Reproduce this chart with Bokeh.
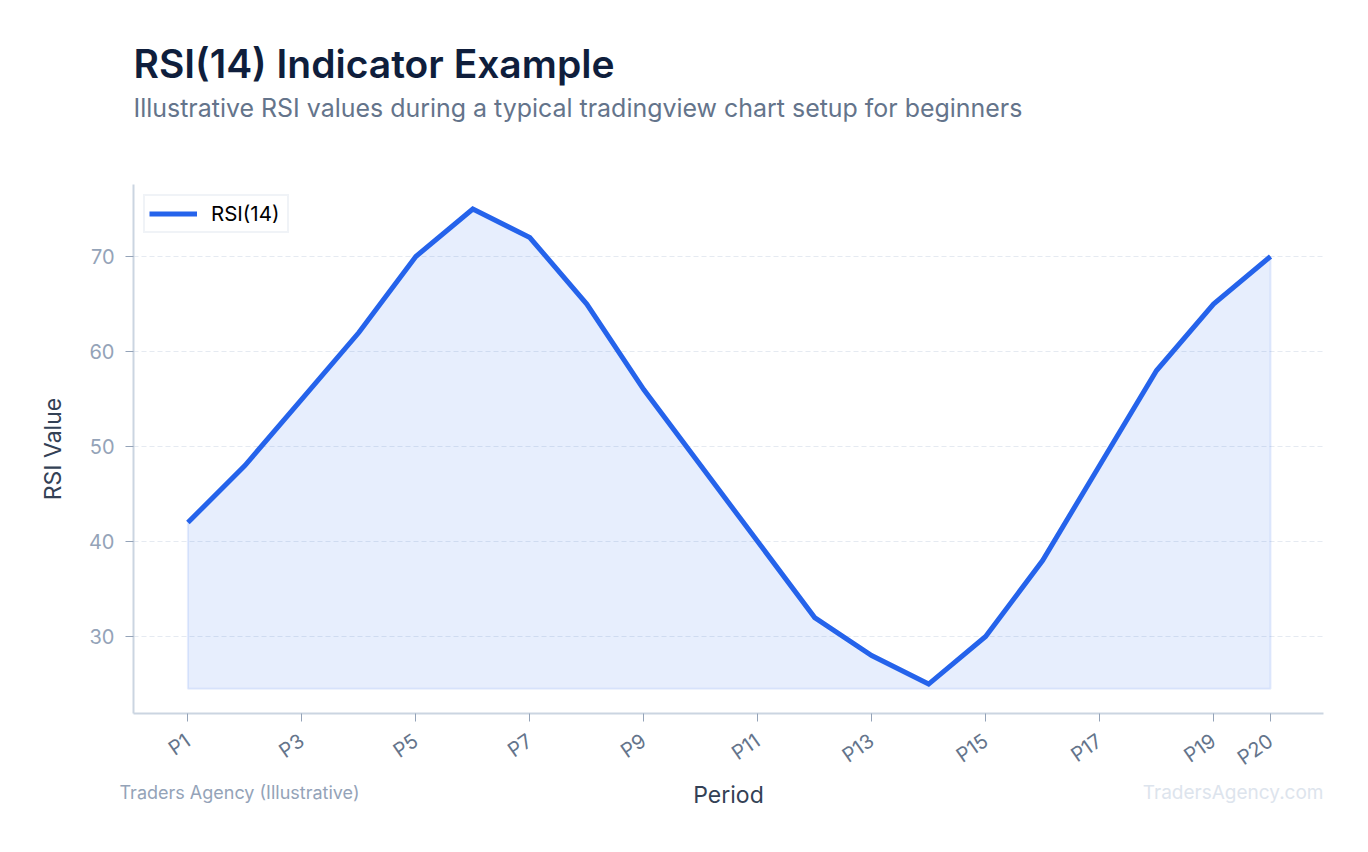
from bokeh.embed import file_html
from bokeh.models import FixedTicker, Label, Legend, LegendItem, Range1d
from bokeh.plotting import figure
from bokeh.resources import INLINE

periods = list(range(1, 21))
rsi = [42, 48, 55, 62, 70, 75, 72, 65, 56, 48, 40, 32, 28, 25, 30, 38, 48, 58, 65, 70]
fill_floor = 24.5
x_ticks = [1, 3, 5, 7, 9, 11, 13, 15, 17, 19, 20]
y_ticks = [30, 40, 50, 60, 70]

FONT = "Inter"

p = figure(
    width=1360,
    height=844,
    output_backend="svg",
    toolbar_location=None,
    x_range=Range1d(0.045, 20.93),
    y_range=Range1d(21.9, 77.58),
    min_border_left=133,
    min_border_right=37,
    min_border_top=184,
    min_border_bottom=131,
    outline_line_color=None,
    background_fill_color="white",
)

# shaded area under the line, down to the floor
p.patch(
    periods + periods[::-1],
    rsi + [fill_floor] * len(periods),
    fill_color="#2563eb",
    fill_alpha=0.11,
    line_color="#2563eb",
    line_alpha=0.11,
    line_width=2,
)
rsi_line = p.line(periods, rsi, line_color="#2563eb", line_width=5, line_join="miter")

legend = Legend(
    items=[LegendItem(label="RSI(14)", renderers=[rsi_line])],
    location="top_left",
    margin=10,
    padding=4,
    spacing=0,
    label_text_font=FONT,
    label_text_font_size="20.5px",
    label_text_color="#000000",
    label_standoff=14,
    label_width=72,
    label_height=27,
    glyph_width=48,
    glyph_height=27,
    border_line_color="#e2e8f0",
    border_line_width=2,
    background_fill_color="white",
)
p.add_layout(legend)

p.xgrid.visible = False
p.ygrid.grid_line_color = "#e2e8f0"
p.ygrid.grid_line_dash = [5, 3]
p.ygrid.grid_line_alpha = 0.9
p.ygrid.grid_line_width = 1

p.xaxis.ticker = FixedTicker(ticks=x_ticks)
p.xaxis.major_label_overrides = {t: "P%d" % t for t in x_ticks}
p.xaxis.major_label_orientation = 0.61
p.xaxis.major_label_text_color = "#64748b"
p.xaxis.major_label_text_font_size = "20px"
p.xaxis.major_label_standoff = 17
p.xaxis.axis_label = "Period"
p.xaxis.axis_label_standoff = -2

p.yaxis.ticker = FixedTicker(ticks=y_ticks)
p.yaxis.major_label_text_color = "#94a3b8"
p.yaxis.major_label_text_font_size = "20px"
p.yaxis.major_label_standoff = 11
p.yaxis.axis_label = "RSI Value"
p.yaxis.axis_label_standoff = 19

for axis in (p.xaxis, p.yaxis):
    axis.axis_line_color = "#cbd5e1"
    axis.axis_line_width = 2
    axis.major_tick_line_color = "#94a3b8"
    axis.major_tick_in = 0
    axis.major_tick_out = 8
    axis.minor_tick_line_color = None
    axis.major_label_text_font = FONT
    axis.axis_label_text_font = FONT
    axis.axis_label_text_font_size = "23px"
    axis.axis_label_text_font_style = "normal"
    axis.axis_label_text_color = "#334155"

# heading and footer texts go in the top panel, placed in canvas pixels
texts = [
    ("RSI(14) Indicator Example", 133, 62.5, "left", "Inter SemiBold", "39px", "normal", "#0f1e3c"),
    ("Illustrative RSI values during a typical tradingview chart setup for beginners",
     133, 107, "left", FONT, "24.94px", "normal", "#64748b"),
    ("Traders Agency (Illustrative)", 119, 791.5, "left", FONT, "18px", "normal", "#94a3b8"),
    ("TradersAgency.com", 1323, 791.5, "right", FONT, "19px", "normal", "#dde4ed"),
]
for text, x, y, align, font, size, style, color in texts:
    p.add_layout(Label(
        x=x, y=y, x_units="canvas", y_units="canvas", text=text,
        text_align=align, text_baseline="alphabetic", text_font=font,
        text_font_size=size, text_font_style=style, text_color=color,
    ), "above")

open("out.html", "w").write(file_html(p, INLINE))
